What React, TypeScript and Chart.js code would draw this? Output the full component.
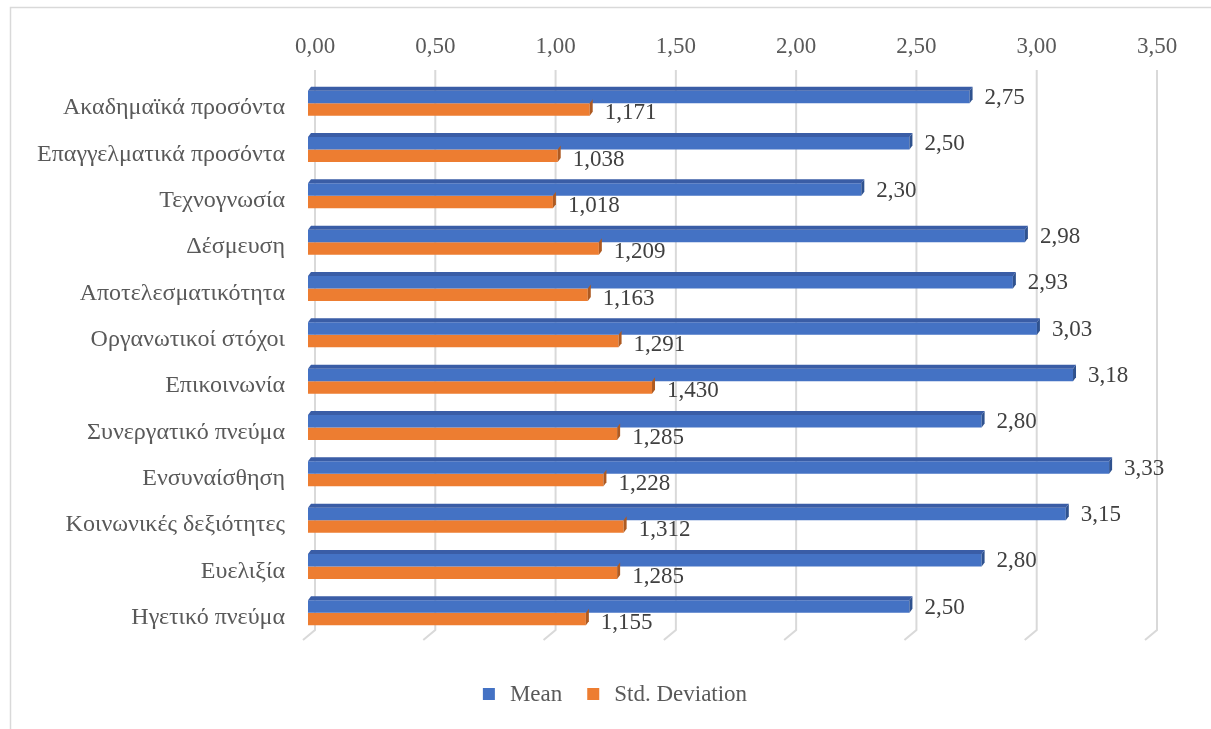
import React, { useEffect, useRef } from 'react';
import { Chart, registerables } from 'chart.js';

Chart.register(...registerables);

const categories = [
  'Ακαδημαϊκά προσόντα',
  'Επαγγελματικά προσόντα',
  'Τεχνογνωσία',
  'Δέσμευση',
  'Αποτελεσματικότητα',
  'Οργανωτικοί στόχοι',
  'Επικοινωνία',
  'Συνεργατικό πνεύμα',
  'Ενσυναίσθηση',
  'Κοινωνικές δεξιότητες',
  'Ευελιξία',
  'Ηγετικό πνεύμα',
];
const meanValues = [2.75, 2.5, 2.3, 2.98, 2.93, 3.03, 3.18, 2.8, 3.33, 3.15, 2.8, 2.5];
const stdValues = [1.171, 1.038, 1.018, 1.209, 1.163, 1.291, 1.43, 1.285, 1.228, 1.312, 1.285, 1.155];
const seriesNames = ['Mean', 'Std. Deviation'];
const seriesDecimals = [2, 3];
const axisMin = 0;
const axisMax = 3.5;
const axisStep = 0.5;

const FONT = '"Liberation Serif", "Times New Roman", serif';
const FONT_SIZE = 23;
const CAT_FONT_SIZE = 24;
const COLORS = ['#4472C4', '#ED7D31'];
const SIDE_COLORS = ['#2F528F', '#AE5A21'];
const TOP_COLORS = ['#3A5DA6', '#C4631F'];

const fmt = (v: number, d: number) => v.toFixed(d).replace('.', ',');

const framePlugin = {
  id: 'frame',
  beforeDraw(chart: any) {
    const { ctx, width, height } = chart;
    ctx.save();
    ctx.fillStyle = '#ffffff';
    ctx.fillRect(0, 0, width, height);
    ctx.strokeStyle = '#d9d9d9';
    ctx.lineWidth = 1.5;
    ctx.beginPath();
    ctx.moveTo(10.5, height);
    ctx.lineTo(10.5, 7.5);
    ctx.lineTo(width, 7.5);
    ctx.stroke();
    ctx.restore();
  },
};

const gridPlugin = {
  id: 'grid3d',
  beforeDatasetsDraw(chart: any) {
    const { ctx } = chart;
    const xs = chart.scales.x;
    ctx.save();
    ctx.strokeStyle = '#d9d9d9';
    ctx.lineWidth = 2;
    xs.ticks.forEach((t: any) => {
      const px = xs.getPixelForValue(t.value);
      ctx.beginPath();
      ctx.moveTo(px + 7, 70);
      ctx.lineTo(px + 7, 630);
      ctx.lineTo(px - 5, 640);
      ctx.stroke();
    });
    ctx.restore();
  },
};

const barsPlugin = {
  id: 'bars3d',
  afterDatasetsDraw(chart: any) {
    const { ctx } = chart;
    const dx = 3;
    const dy = 4;
    ctx.save();
    chart.data.datasets.forEach((ds: any, di: number) => {
      const meta = chart.getDatasetMeta(di);
      meta.data.forEach((el: any, i: number) => {
        const { x, y, base, height } = el.getProps(['x', 'y', 'base', 'height'], true);
        const top = y - height / 2;
        const bottom = y + height / 2;
        ctx.fillStyle = SIDE_COLORS[di];
        ctx.beginPath();
        ctx.moveTo(x, top);
        ctx.lineTo(x + dx, top - dy);
        ctx.lineTo(x + dx, bottom - dy);
        ctx.lineTo(x, bottom);
        ctx.closePath();
        ctx.fill();
        if (di === 0) {
          ctx.fillStyle = TOP_COLORS[di];
          ctx.beginPath();
          ctx.moveTo(base, top);
          ctx.lineTo(base + dx, top - dy);
          ctx.lineTo(x + dx, top - dy);
          ctx.lineTo(x, top);
          ctx.closePath();
          ctx.fill();
        }
        ctx.fillStyle = '#404040';
        ctx.font = `${FONT_SIZE}px ${FONT}`;
        ctx.textAlign = 'left';
        ctx.textBaseline = 'middle';
        ctx.fillText(fmt(ds.data[i], seriesDecimals[di]), x + 15, y + (di === 0 ? 1 : 4));
      });
    });
    ctx.restore();
  },
};

const legendPlugin = {
  id: 'customLegend',
  afterDraw(chart: any) {
    const { ctx } = chart;
    ctx.save();
    ctx.font = `${FONT_SIZE}px ${FONT}`;
    const box = 12;
    const gapText = 15;
    const gapItem = 25;
    const widths = chart.data.datasets.map((ds: any) => box + gapText + ctx.measureText(ds.label).width);
    const total = widths.reduce((a: number, b: number) => a + b, 0) + gapItem * (widths.length - 1);
    let x = 615 - total / 2;
    const cy = 694;
    chart.data.datasets.forEach((ds: any, i: number) => {
      ctx.fillStyle = ds.backgroundColor;
      ctx.fillRect(x, cy - box / 2, box, box);
      ctx.fillStyle = '#595959';
      ctx.textAlign = 'left';
      ctx.textBaseline = 'middle';
      ctx.fillText(ds.label, x + box + gapText, cy + 1);
      x += widths[i] + gapItem;
    });
    ctx.restore();
  },
};

export default function App() {
  const canvasRef = useRef<HTMLCanvasElement | null>(null);

  useEffect(() => {
    document.body.style.margin = '0';
    const canvas = canvasRef.current;
    if (!canvas) return;
    const chart = new Chart(canvas, {
      type: 'bar',
      data: {
        labels: categories,
        datasets: [
          { label: seriesNames[0], data: meanValues, backgroundColor: COLORS[0], borderWidth: 0 },
          { label: seriesNames[1], data: stdValues, backgroundColor: COLORS[1], borderWidth: 0 },
        ],
      },
      options: {
        indexAxis: 'y',
        responsive: false,
        animation: false,
        devicePixelRatio: 1,
        layout: { padding: { left: 0, right: 61, top: 0, bottom: 93 } },
        datasets: { bar: { categoryPercentage: 0.54, barPercentage: 1 } },
        plugins: { legend: { display: false }, tooltip: { enabled: false } },
        scales: {
          x: {
            position: 'top',
            min: axisMin,
            max: axisMax,
            grid: { display: false },
            border: { display: false },
            afterFit: (s: any) => { s.height = 80; },
            ticks: {
              stepSize: axisStep,
              padding: 11,
              labelOffset: 7,
              color: '#595959',
              font: { family: FONT, size: FONT_SIZE },
              callback: (v: any) => fmt(Number(v), 2),
            },
          },
          y: {
            grid: { display: false },
            border: { display: false },
            afterFit: (s: any) => { s.width = 308; },
            ticks: {
              padding: 15,
              labelOffset: 5,
              color: '#595959',
              font: { family: FONT, size: CAT_FONT_SIZE },
            },
          },
        },
      },
      plugins: [framePlugin, gridPlugin, barsPlugin, legendPlugin],
    });
    return () => chart.destroy();
  }, []);

  return (
    <div style={{ width: 1211, height: 729 }}>
      <canvas ref={canvasRef} width={1211} height={729} />
    </div>
  );
}
